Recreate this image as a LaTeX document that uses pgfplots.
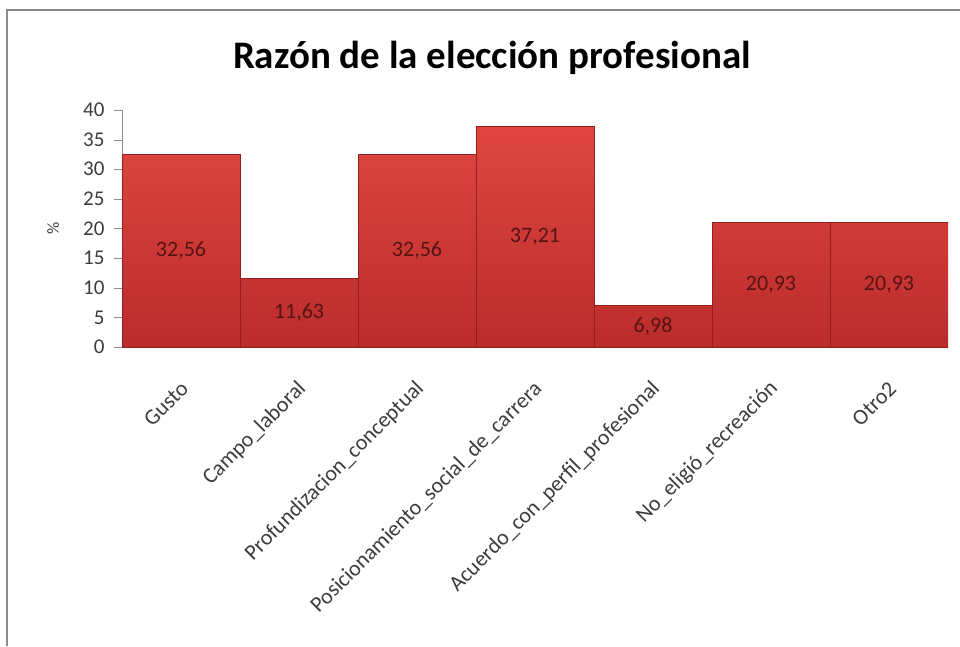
\documentclass[border=0pt]{standalone}
\usepackage{fontspec}
\setmainfont{Carlito}
\usepackage{pgfplots}
\pgfplotsset{compat=1.18}

\definecolor{barTop}{RGB}{224,70,64}
\definecolor{barBot}{RGB}{186,44,44}
\definecolor{barEdge}{RGB}{145,32,32}
\definecolor{frameGray}{RGB}{140,140,140}
\definecolor{txt}{RGB}{60,60,60}

\begin{document}
\begin{tikzpicture}
\path[use as bounding box] (0,0) rectangle (960pt,646pt);
\draw[frameGray, line width=1.5pt] (7pt,0) -- (7pt,636pt) -- (960pt,636pt);
\node[font=\bfseries\fontsize{39}{44}\selectfont] at (492pt,588pt) {Razón de la elección profesional};
\begin{axis}[
    at={(122pt,299pt)}, anchor=south west,
    scale only axis,
    width=826pt, height=237pt,
    xmin=-0.5, xmax=6.5,
    ymin=0, ymax=40,
    ytick={0,5,...,40},
    xtick=data,
    xticklabels={Gusto, Campo\_laboral, Profundizacion\_conceptual, Posicionamiento\_social\_de\_carrera, Acuerdo\_con\_perfil\_profesional, No\_eligió\_recreación, Otro2},
    xticklabel style={yshift=-28pt, xshift=6pt, rotate=45, anchor=east, font=\fontsize{22}{24}\selectfont, text=txt},
    yticklabel style={xshift=-6pt, font=\fontsize{21}{24}\selectfont, text=txt},
    /pgf/number format/assume math mode=true,
    ylabel={\%},
    ylabel style={font=\fontsize{17}{20}\selectfont, text=txt, at={(axis description cs:-0.072,0.5)}},
    axis x line*=bottom,
    axis y line*=left,
    axis line style={frameGray},
    major tick length=8pt,
    ytick style={frameGray},
    xtick style={draw=none},
    tick align=outside,
    ybar, bar width=1,
    visualization depends on={rawy \as \rawy},
    nodes near coords={\pgfmathprintnumber[fixed,precision=2,fixed zerofill,use comma]{\pgfplotspointmeta}},
    every node near coord/.append style={font=\fontsize{22}{24}\selectfont, text={rgb,255:red,85;green,20;blue,20}, anchor=center, shift={(axis direction cs:0,-\rawy/2)}},
]
\addplot[draw=barEdge, top color=barTop, bottom color=barBot, line width=1pt]
    coordinates {
        (0,32.56)
        (1,11.63)
        (2,32.56)
        (3,37.21)
        (4,6.98)
        (5,20.93)
        (6,20.93)
    };
\end{axis}
\end{tikzpicture}
\end{document}
